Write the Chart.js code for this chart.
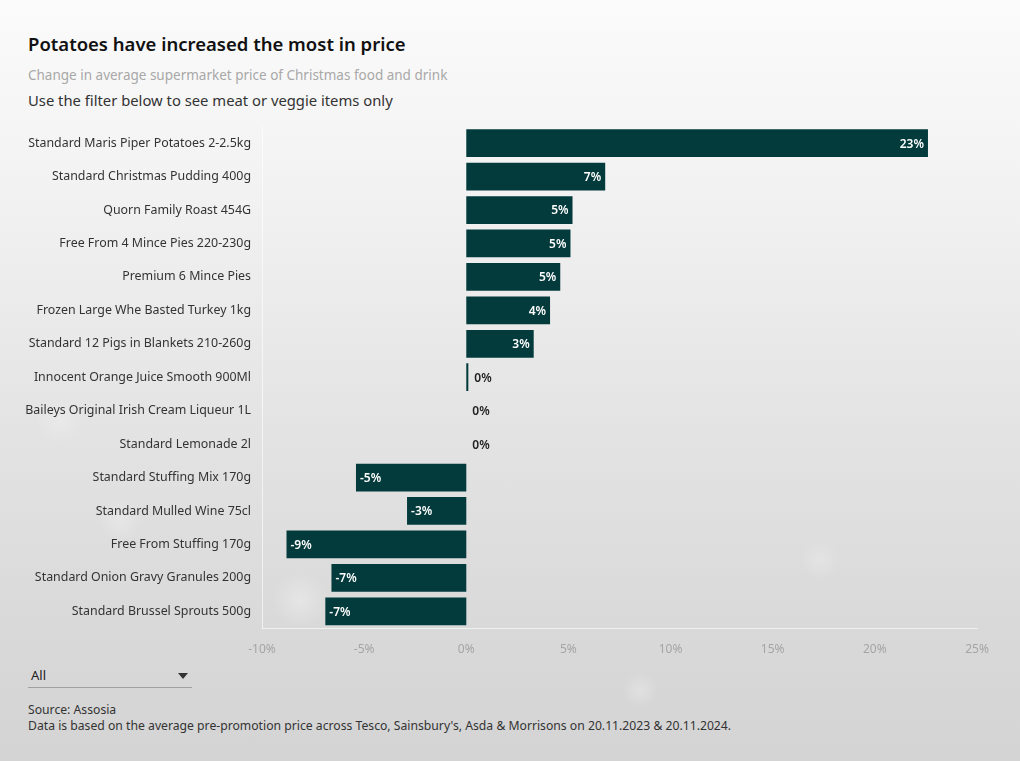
<!DOCTYPE html>
<html>
<head>
<meta charset="utf-8">
<script src="https://cdn.jsdelivr.net/npm/chart.js@4/dist/chart.umd.min.js"></script>
<style>
  html, body { margin: 0; padding: 0; }
  body {
    width: 1020px; height: 761px; overflow: hidden; position: relative;
    font-family: "Noto Sans", "Open Sans", sans-serif;
    background:
      radial-gradient(circle at 120px 520px, rgba(255,255,255,0.25) 0, rgba(255,255,255,0) 22px),
      radial-gradient(circle at 300px 600px, rgba(255,255,255,0.3) 0, rgba(255,255,255,0) 28px),
      radial-gradient(circle at 640px 690px, rgba(255,255,255,0.25) 0, rgba(255,255,255,0) 18px),
      radial-gradient(circle at 820px 560px, rgba(255,255,255,0.2) 0, rgba(255,255,255,0) 20px),
      radial-gradient(circle at 60px 420px, rgba(255,255,255,0.2) 0, rgba(255,255,255,0) 24px),
      linear-gradient(to bottom, #fbfbfb 0%, #f2f2f2 25%, #e4e4e4 55%, #d8d8d8 85%, #d4d4d4 100%);
  }
  .title { position: absolute; left: 28px; top: 31px; font-size: 18.5px; font-weight: 600; color: #111; }
  .sub { position: absolute; left: 28px; top: 66px; font-size: 13.5px; color: #a8a8a8; }
  .hint { position: absolute; left: 28px; top: 90px; font-size: 14.8px; color: #333; }
  #wrap { position: absolute; left: 20px; top: 108px; width: 980px; height: 550px; }
  .drop { position: absolute; left: 28px; top: 665px; width: 164px; height: 22px; border-bottom: 1px solid #a0a0a0; font-size: 13px; color: #222; }
  .drop span { position: absolute; left: 3px; top: 1px; }
  .drop i { position: absolute; right: 4px; top: 8px; width: 0; height: 0;
    border-left: 5px solid transparent; border-right: 5px solid transparent; border-top: 6px solid #333; }
  .src { position: absolute; left: 28px; top: 702px; font-size: 12.2px; color: #333; line-height: 16px; }
</style>
</head>
<body>
<div class="title">Potatoes have increased the most in price</div>
<div class="sub">Change in average supermarket price of Christmas food and drink</div>
<div class="hint">Use the filter below to see meat or veggie items only</div>
<div id="wrap"><canvas id="priceChart"></canvas></div>
<div class="drop"><span>All</span><i></i></div>
<div class="src">Source: Assosia<br>Data is based on the average pre-promotion price across Tesco, Sainsbury's, Asda &amp; Morrisons on 20.11.2023 &amp; 20.11.2024.</div>

<script>
// Items, top to bottom
var items = [
    'Standard Maris Piper Potatoes 2-2.5kg',
    'Standard Christmas Pudding 400g',
    'Quorn Family Roast 454G',
    'Free From 4 Mince Pies 220-230g',
    'Premium 6 Mince Pies',
    'Frozen Large Whe Basted Turkey 1kg',
    'Standard 12 Pigs in Blankets 210-260g',
    'Innocent Orange Juice Smooth 900Ml',
    'Baileys Original Irish Cream Liqueur 1L',
    'Standard Lemonade 2l',
    'Standard Stuffing Mix 170g',
    'Standard Mulled Wine 75cl',
    'Free From Stuffing 170g',
    'Standard Onion Gravy Granules 200g',
    'Standard Brussel Sprouts 500g'
];

// Price change in percent
var priceChange = [22.6, 6.8, 5.2, 5.1, 4.6, 4.1, 3.3, 0.1, 0, 0, -5.4, -2.9, -8.8, -6.6, -6.9];

// x axis ticks
var tickValues = [-10, -5, 0, 5, 10, 15, 20, 25];

var barColour = '#033a3c';

// Draws the rounded % labels at the end of each bar
var barLabels = {
    id: 'barLabels',
    afterDatasetsDraw: function(chart) {
        var ctx = chart.ctx;
        var meta = chart.getDatasetMeta(0);
        ctx.save();
        ctx.font = '600 12px "Noto Sans", sans-serif';
        ctx.textBaseline = 'middle';
        meta.data.forEach(function(bar, i) {
            var v = priceChange[i];
            var txt = Math.round(v) + '%';
            var w = ctx.measureText(txt).width;
            var len = Math.abs(bar.x - bar.base);
            if (len < w + 10) {
                ctx.fillStyle = '#222';
                ctx.textAlign = 'left';
                ctx.fillText(txt, Math.max(bar.x, bar.base) + 6, bar.y + 1);
            } else if (v >= 0) {
                ctx.fillStyle = '#fff';
                ctx.textAlign = 'right';
                ctx.fillText(txt, bar.x - 4, bar.y + 1);
            } else {
                ctx.fillStyle = '#fff';
                ctx.textAlign = 'left';
                ctx.fillText(txt, bar.x + 4, bar.y + 1);
            }
        });
        ctx.restore();
    }
};

var ctx = document.getElementById('priceChart').getContext('2d');

var priceChart = new Chart(ctx, {
    type: 'bar',
    data: {
        labels: items,
        datasets: [{
            data: priceChange,
            backgroundColor: barColour,
            borderWidth: 0,
            barPercentage: 0.83,
            categoryPercentage: 1
        }]
    },
    plugins: [barLabels],
    options: {
        indexAxis: 'y',
        responsive: true,
        maintainAspectRatio: false,
        animation: false,
        layout: { padding: { top: 2, right: 23, left: 0, bottom: 0 } },
        plugins: {
            legend: { display: false },
            tooltip: { enabled: false }
        },
        scales: {
            x: {
                min: -10,
                max: 25,
                afterBuildTicks: function(axis) {
                    axis.ticks = tickValues.map(function(v) { return { value: v }; });
                },
                afterFit: function(axis) { axis.height = 30; },
                grid: { display: false },
                border: { display: true, color: 'rgba(255,255,255,0.6)' },
                ticks: {
                    color: '#a5a5a5',
                    font: { family: '"Noto Sans", sans-serif', size: 12 },
                    padding: 6,
                    maxRotation: 0,
                    callback: function(v) { return v + '%'; }
                }
            },
            y: {
                afterFit: function(axis) { axis.width = 242; },
                grid: { display: false, drawTicks: false },
                border: { display: true, color: 'rgba(255,255,255,0.6)' },
                ticks: {
                    color: '#333',
                    font: { family: '"Noto Sans", sans-serif', size: 12.4 },
                    padding: 11
                }
            }
        }
    }
});
</script>
</body>
</html>
